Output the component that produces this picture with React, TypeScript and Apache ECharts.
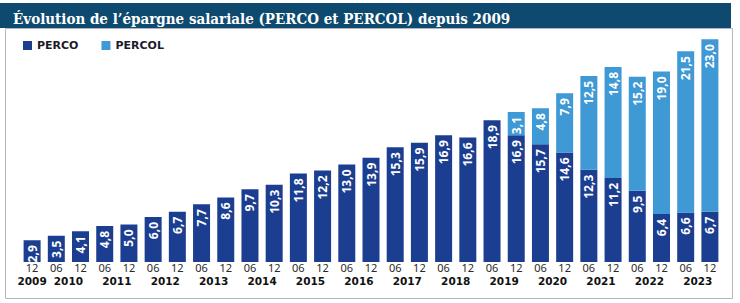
import React, { useEffect, useRef } from "react";
import * as echarts from "echarts";

// Semesters (month) and their years
const periods = [
  "12",
  "06", "12", "06", "12", "06", "12", "06", "12", "06", "12",
  "06", "12", "06", "12", "06", "12", "06", "12", "06", "12",
  "06", "12", "06", "12", "06", "12", "06", "12",
];
const years = [
  "2009", "2010", "2011", "2012", "2013", "2014", "2015", "2016",
  "2017", "2018", "2019", "2020", "2021", "2022", "2023",
];

// Outstanding amounts (Md€)
const perco = [
  2.9, 3.5, 4.1, 4.8, 5.0, 6.0, 6.7, 7.7, 8.6, 9.7, 10.3, 11.8, 12.2, 13.0,
  13.9, 15.3, 15.9, 16.9, 16.6, 18.9, 16.9, 15.7, 14.6, 12.3, 11.2, 9.5, 6.4,
  6.6, 6.7,
];
const percol = [
  null, null, null, null, null, null, null, null, null, null, null, null,
  null, null, null, null, null, null, null, null,
  3.1, 4.8, 7.9, 12.5, 14.8, 15.2, 19.0, 21.5, 23.0,
];

const DARK = "#1c3e91";
const LIGHT = "#3f99d5";
const TITLE_BG = "#0e4a6f";

// Year labels sit on a half-step axis: year 2009 under the first bar,
// the others centred between their "06" and "12" bars.
const halfSteps: string[] = [];
for (let k = 0; k <= periods.length * 2; k++) halfSteps.push("");
halfSteps[1] = years[0];
for (let i = 1; i < years.length; i++) halfSteps[4 * i] = years[i];

const fmt = (v: any) =>
  v === null || v === undefined || v === "-" ? "" : Number(v).toFixed(1).replace(".", ",");

const valueLabel = {
  show: true,
  position: "insideTop" as const,
  distance: 5,
  rotate: 90,
  align: "right" as const,
  verticalAlign: "middle" as const,
  color: "#ffffff",
  fontFamily: "Noto Sans",
  fontWeight: "bold" as const,
  fontSize: 12,
  formatter: (p: any) => fmt(p.value),
};

export default function App() {
  const ref = useRef<HTMLDivElement>(null);

  useEffect(() => {
    document.body.style.margin = "0";
    if (!ref.current) return;
    const chart = echarts.init(ref.current, null, { renderer: "svg" });
    chart.setOption({
      animation: false,
      backgroundColor: "#ffffff",
      title: {
        text: "Évolution de l’épargne salariale (PERCO et PERCOL) depuis 2009",
        left: 8,
        top: 6,
        textStyle: {
          color: "#ffffff",
          fontFamily: "DejaVu Serif Condensed, DejaVu Serif",
          fontWeight: "bold",
          fontSize: 15,
        },
      },
      graphic: [
        {
          type: "rect",
          z: -1,
          shape: { x: 5.5, y: 28.5, width: 727, height: 270 },
          style: { fill: "#ffffff", stroke: "#b4b6bd", lineWidth: 1 },
        },
        {
          type: "rect",
          z: -1,
          shape: { x: 0, y: 3, width: 731, height: 25 },
          style: { fill: TITLE_BG },
        },
      ],
      legend: {
        left: 18,
        top: 35,
        icon: "rect",
        itemWidth: 9,
        itemHeight: 9,
        itemGap: 23,
        textStyle: {
          color: "#1b1b2b",
          fontFamily: "DejaVu Sans",
          fontWeight: "bold",
          fontSize: 11,
        },
        data: ["PERCO", "PERCOL"],
      },
      grid: { left: 20, right: 18, top: 37, bottom: 41 },
      xAxis: [
        {
          type: "category",
          data: periods,
          axisLine: { show: false },
          axisTick: { show: false },
          axisLabel: {
            interval: 0,
            margin: 0,
            color: "#2a2a2a",
            fontFamily: "Noto Sans",
            fontSize: 11,
            lineHeight: 11,
          },
        },
        {
          type: "category",
          data: halfSteps,
          boundaryGap: false,
          position: "bottom",
          offset: 11,
          axisLine: { show: false },
          axisTick: { show: false },
          axisLabel: {
            interval: (_i: number, v: string) => v !== "",
            margin: 2,
            color: "#111111",
            fontFamily: "DejaVu Sans",
            fontWeight: "bold",
            fontSize: 10.5,
            lineHeight: 11,
          },
        },
      ],
      yAxis: {
        type: "value",
        min: 0,
        max: 30,
        show: false,
        splitLine: { show: false },
      },
      series: [
        {
          name: "PERCO",
          type: "bar",
          stack: "total",
          barWidth: 17,
          itemStyle: { color: DARK },
          label: valueLabel,
          data: perco,
        },
        {
          name: "PERCOL",
          type: "bar",
          stack: "total",
          barWidth: 17,
          itemStyle: { color: LIGHT },
          label: valueLabel,
          data: percol,
        },
      ],
    });
    return () => chart.dispose();
  }, []);

  return <div ref={ref} style={{ width: 740, height: 303 }} />;
}
